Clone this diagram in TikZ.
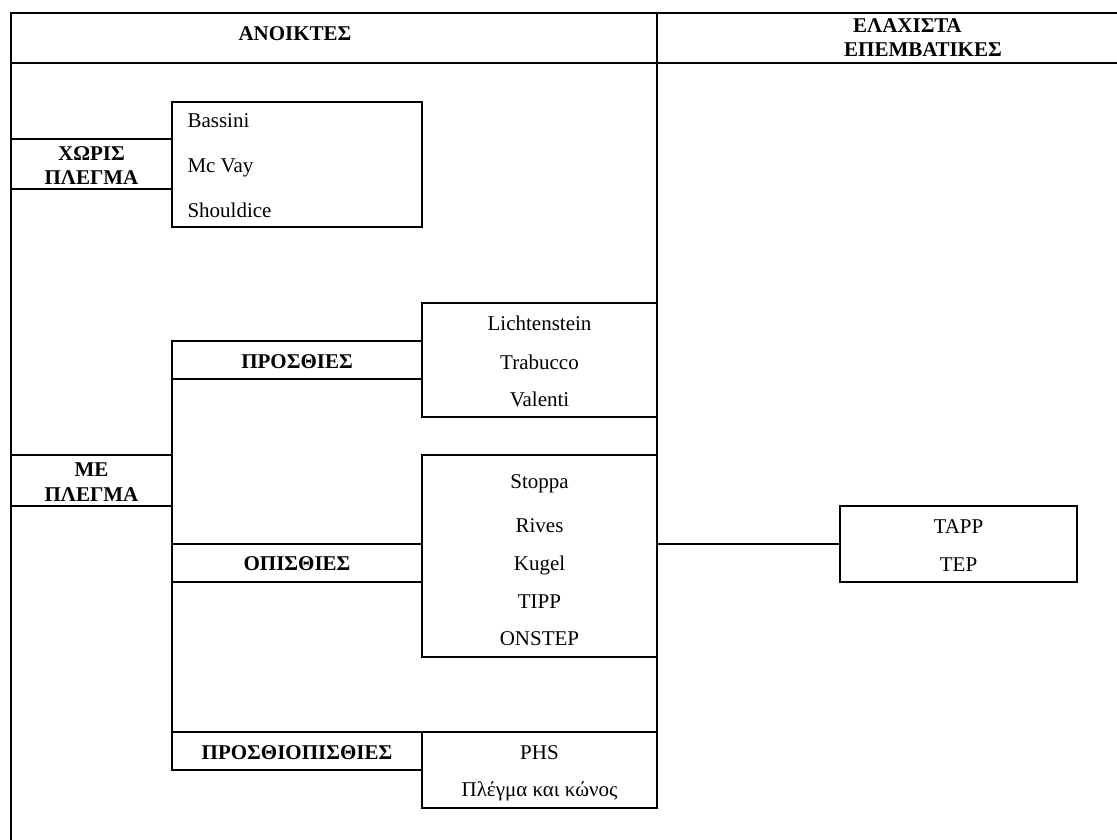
\documentclass[tikz,border=0pt]{standalone}
\usepackage{fontspec}
\setmainfont{Liberation Serif}
\begin{document}
\begin{tikzpicture}[x=1pt,y=-1pt,
  frame/.style={line width=2pt,line cap=rect},
  box/.style={draw,line width=2pt,rectangle,inner sep=0pt,outer sep=0pt},
  txt/.style={inner sep=0pt,anchor=base,font=\fontsize{21}{24}\selectfont},
  btxt/.style={txt,font=\fontsize{21}{24}\selectfont\bfseries},
  link/.style={line width=2pt}]
\useasboundingbox (0,0) rectangle (1117,839);
% frame
\coordinate (tl) at (10.7,12.5);
\coordinate (tr) at (1117,12.5);
\coordinate (hl) at (10.7,62.5);
\coordinate (hr) at (1117,62.5);
\coordinate (bl) at (10.7,839);
\coordinate (dt) at (657,12.5);
\coordinate (db) at (657,808);
\draw[frame] (tl) -- (tr);
\draw[frame] (hl) -- (hr);
\draw[frame] (tl) -- (bl);
\draw[frame] (dt) -- (db);
% header texts
\node[btxt] (anoi) at (295,40.5) {ΑΝΟΙΚΤΕΣ};
\node[btxt,anchor=base west] (elax) at (853,32.3) {ΕΛΑΧΙΣΤΑ};
\node[btxt,anchor=base west] (epem) at (844,56.7) {ΕΠΕΜΒΑΤΙΚΕΣ};
% boxes
\node[box,minimum width=161.3pt,minimum height=50pt] (xoris) at (91.35,164) {};
\node[box,minimum width=249.4pt,minimum height=125pt] (bas) at (297,164.2) {};
\node[box,minimum width=250pt,minimum height=38pt] (pros) at (297,360) {};
\node[box,minimum width=235pt,minimum height=114pt] (licht) at (539.5,360) {};
\node[box,minimum width=161.3pt,minimum height=51pt] (me) at (91.35,480.5) {};
\node[box,minimum width=235pt,minimum height=202pt] (stop) at (539.5,556) {};
\node[box,minimum width=250pt,minimum height=38pt] (opis) at (297,563) {};
\node[box,minimum width=250pt,minimum height=38pt] (prop) at (297,751) {};
\node[box,minimum width=235pt,minimum height=76pt] (phs) at (539.5,770) {};
\node[box,minimum width=237pt,minimum height=76pt] (tapp) at (958.5,544) {};
% connectors
\draw[link] (pros.south west) -- (me.north east);
\draw[link] (me.south east) -- (opis.north west);
\draw[link] (opis.south west) -- (prop.north west);
\coordinate (tj) at (657,544);
\draw[link] (tj) -- (tapp.west);
% texts
\node[btxt] (t1) at (91.5,160.7) {ΧΩΡΙΣ};
\node[btxt] (t2) at (91.5,184.3) {ΠΛΕΓΜΑ};
\node[txt,anchor=base west] (t3) at (187.3,127.3) {Bassini};
\node[txt,anchor=base west] (t4) at (187.3,172.7) {Mc Vay};
\node[txt,anchor=base west] (t5) at (187.3,217.7) {Shouldice};
\node[btxt] (t6) at (297,368.3) {ΠΡΟΣΘΙΕΣ};
\node[txt] (t7) at (539.5,330.5) {Lichtenstein};
\node[txt] (t8) at (539.5,369) {Trabucco};
\node[txt] (t9) at (539.5,406) {Valenti};
\node[btxt] (t10) at (91.5,476.7) {ΜΕ};
\node[btxt] (t11) at (91.5,501.7) {ΠΛΕΓΜΑ};
\node[txt] (t12) at (539.5,488) {Stoppa};
\node[txt] (t13) at (539.5,532.7) {Rives};
\node[txt] (t14) at (539.5,570.7) {Kugel};
\node[txt] (t15) at (539.5,608.7) {TIPP};
\node[txt] (t16) at (539.5,645.7) {ONSTEP};
\node[btxt] (t17) at (297,570.7) {ΟΠΙΣΘΙΕΣ};
\node[btxt] (t18) at (297,759) {ΠΡΟΣΘΙΟΠΙΣΘΙΕΣ};
\node[txt] (t19) at (539.5,759) {PHS};
\node[txt] (t20) at (539.5,796) {Πλέγμα και κώνος};
\node[txt] (t21) at (958.5,533.3) {TAPP};
\node[txt] (t22) at (958.5,571.7) {TEP};
\end{tikzpicture}
\end{document}
